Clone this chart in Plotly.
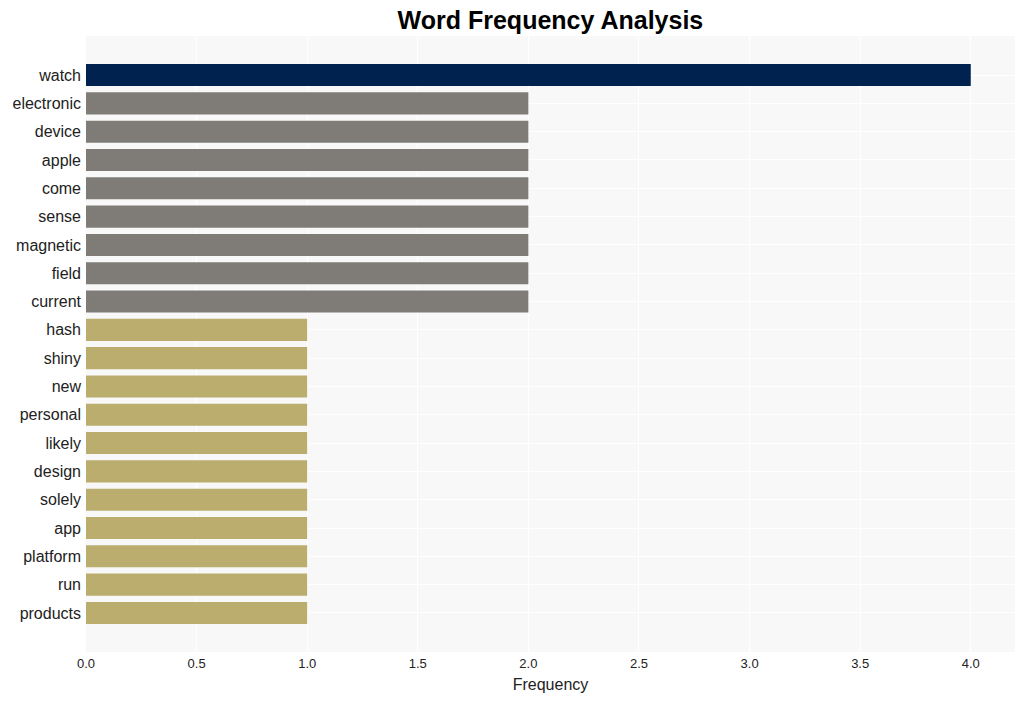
import plotly.graph_objects as go

words = ["watch", "electronic", "device", "apple", "come", "sense", "magnetic", "field",
         "current", "hash", "shiny", "new", "personal", "likely", "design", "solely",
         "app", "platform", "run", "products"]
freqs = [4, 2, 2, 2, 2, 2, 2, 2, 2, 1, 1, 1, 1, 1, 1, 1, 1, 1, 1, 1]
x_ticks = [0, 0.5, 1, 1.5, 2, 2.5, 3, 3.5, 4]

def color_for(v):
    if v >= 4:
        return "#00224e"
    if v >= 2:
        return "#7f7c78"
    return "#bbad6e"

w = words[::-1]
f = freqs[::-1]

fig = go.Figure(go.Bar(
    x=f, y=w, orientation="h",
    marker=dict(color=[color_for(v) for v in f], line=dict(width=0)),
    width=0.78,
))
fig.update_layout(
    width=1025, height=701,
    margin=dict(l=86, r=10, t=36, b=49),
    paper_bgcolor="white",
    plot_bgcolor="#f8f8f8",
    font=dict(family="Liberation Sans, Arial, sans-serif", color="#222"),
    title=dict(text="<b>Word Frequency Analysis</b>", x=0.537, xanchor="center",
               y=0.983, yanchor="top", font=dict(size=25, color="black")),
    showlegend=False,
    bargap=0.22,
)
fig.update_xaxes(range=[0, 4.2], tickvals=x_ticks,
                 ticktext=[f"{v:.1f}" for v in x_ticks],
                 gridcolor="white", gridwidth=1, zeroline=False,
                 title=dict(text="Frequency", font=dict(size=16), standoff=8),
                 tickfont=dict(size=13), ticks="", ticklabelstandoff=2)
fig.update_yaxes(range=[-1.38, 20.38], gridcolor="white", gridwidth=1,
                 tickfont=dict(size=16), ticks="", ticklabelstandoff=4)
fig.write_html("out.html")
